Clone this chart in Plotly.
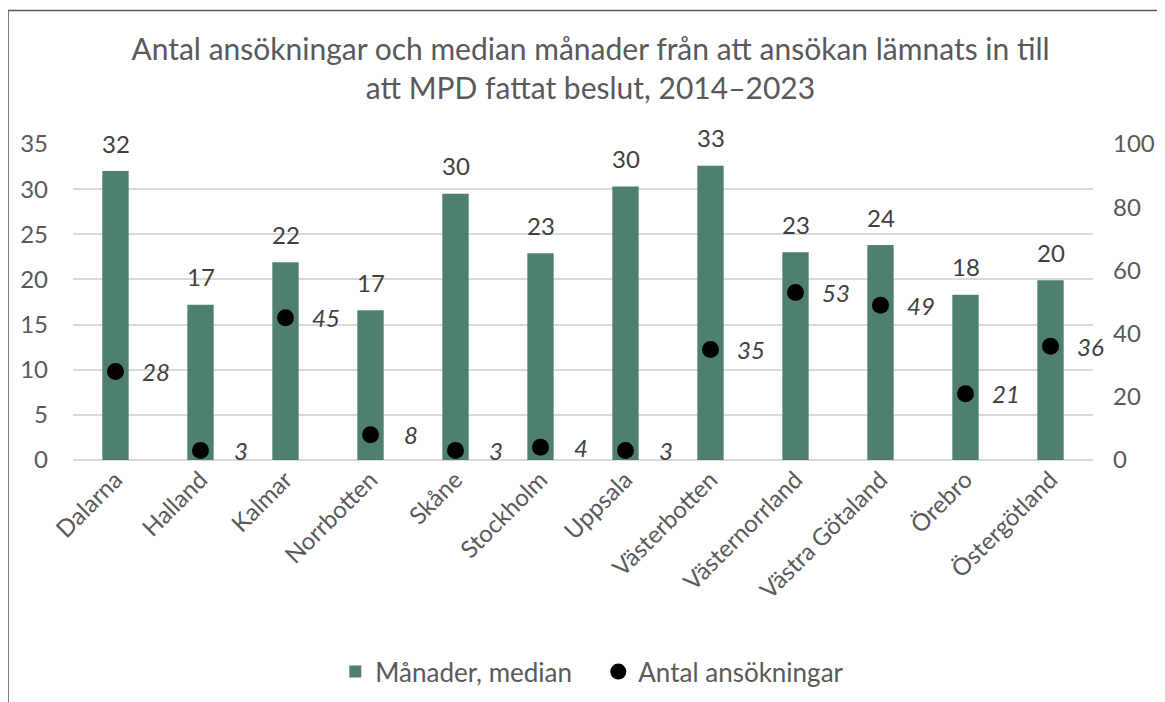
import plotly.graph_objects as go

regions = ["Dalarna", "Halland", "Kalmar", "Norrbotten", "Skåne", "Stockholm",
           "Uppsala", "Västerbotten", "Västernorrland", "Västra Götaland", "Örebro", "Östergötland"]
median_months = [32.0, 17.2, 21.9, 16.6, 29.5, 22.9, 30.3, 32.6, 23.0, 23.8, 18.3, 19.9]
applications = [28, 3, 45, 8, 3, 4, 3, 35, 53, 49, 21, 36]

grey = "#595959"
font = "Lato, 'Open Sans', sans-serif"

fig = go.Figure()
fig.add_trace(go.Bar(
    x=regions, y=median_months, name="Månader, median",
    marker=dict(color="#4E7F70", line=dict(width=0)),
))
fig.add_trace(go.Scatter(
    x=regions, y=applications, name="Antal ansökningar", yaxis="y2",
    mode="markers", marker=dict(color="black", size=17),
    cliponaxis=False,
))

# value labels above bars
for r, v in zip(regions, median_months):
    fig.add_annotation(x=r, y=v, text=f"{v:.0f}", showarrow=False, yanchor="middle",
                       yshift=28, font=dict(size=24, color="#404040", family=font))

# italic labels to the right of each dot
for r, v in zip(regions, applications):
    fig.add_annotation(x=r, y=v, yref="y2", text=f"<i>{v}</i>", showarrow=False,
                       xshift=40, font=dict(size=24, color="#404040", family=font))

fig.update_layout(
    width=1165, height=702,
    # page is drawn with an 8px body offset, margins compensate
    margin=dict(l=65, r=80, t=136, b=250, autoexpand=False),
    paper_bgcolor="white", plot_bgcolor="white",
    font=dict(family=font, color=grey, size=24),
    title=dict(text="Antal ansökningar och median månader från att ansökan lämnats in till<br>att MPD fattat beslut, 2014–2023",
               x=0.5, xanchor="center", y=0.926, yanchor="middle",
               font=dict(size=30, color=grey, family=font)),
    bargap=0.69,
    showlegend=True,
    legend=dict(orientation="h", x=0.515, xanchor="center", y=-0.67, yanchor="middle",
                font=dict(size=26, color=grey, family=font), entrywidth=218),
    xaxis=dict(range=[-0.5, 11.5], tickangle=-45, tickfont=dict(size=24, color=grey),
               showline=False, ticks="", automargin=False),
    yaxis=dict(range=[0, 35], dtick=5, showgrid=True, gridcolor="#D9D9D9", gridwidth=2,
               zeroline=True, zerolinecolor="#D9D9D9", zerolinewidth=2, automargin=False,
               tickfont=dict(size=24, color=grey), ticklabelstandoff=24),
    yaxis2=dict(range=[0, 100], dtick=20, overlaying="y", side="right", showgrid=False,
                zeroline=False, automargin=False,
                tickfont=dict(size=24, color=grey), ticklabelstandoff=19),
)

# outer frame
fig.add_shape(type="rect", xref="paper", yref="paper", x0=-0.0637, x1=1.0696, y0=-0.9, y1=1.4225,
              line=dict(color="#595959", width=1.5), fillcolor="rgba(0,0,0,0)", layer="below")

fig.write_html("out.html")
